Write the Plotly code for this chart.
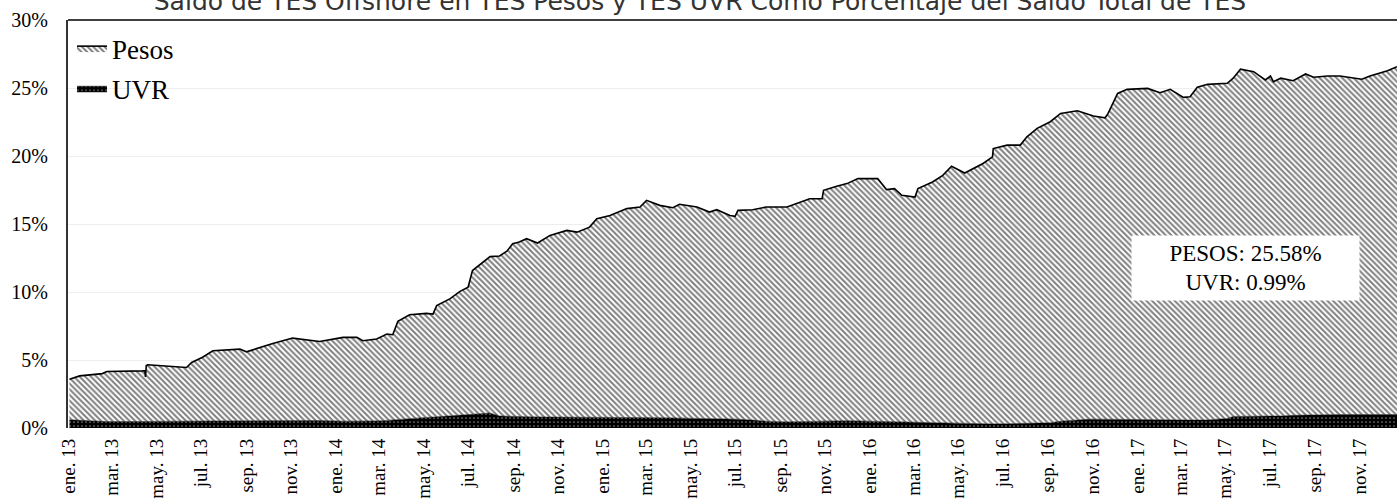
import plotly.graph_objects as go

# Fechas de lectura de la serie
fechas = [
    "2013-01-02", "2013-01-16", "2013-02-16", "2013-02-22", "2013-04-12", "2013-04-15",
    "2013-04-16", "2013-04-17", "2013-04-19", "2013-06-11", "2013-06-18", "2013-07-03",
    "2013-07-17", "2013-08-23", "2013-09-01", "2013-09-19", "2013-10-07", "2013-11-03",
    "2013-12-10", "2014-01-11", "2014-01-30", "2014-02-07", "2014-02-26", "2014-03-12",
    "2014-03-20", "2014-03-27", "2014-04-12", "2014-05-05", "2014-05-14", "2014-05-19",
    "2014-06-06", "2014-06-20", "2014-07-01", "2014-07-07", "2014-07-31", "2014-08-13",
    "2014-08-23", "2014-08-31", "2014-09-09", "2014-09-19", "2014-10-04", "2014-10-21",
    "2014-11-13", "2014-11-27", "2014-12-14", "2014-12-24", "2015-01-11", "2015-02-03",
    "2015-02-21", "2015-03-02", "2015-03-20", "2015-04-07", "2015-04-16", "2015-05-10",
    "2015-05-27", "2015-06-06", "2015-06-24", "2015-07-01", "2015-07-05", "2015-07-25",
    "2015-08-13", "2015-09-10", "2015-09-28", "2015-10-11", "2015-10-28", "2015-10-30",
    "2015-11-17", "2015-12-01", "2015-12-16", "2016-01-12", "2016-01-24", "2016-02-04",
    "2016-02-14", "2016-03-03", "2016-03-07", "2016-03-27", "2016-04-10", "2016-04-22",
    "2016-05-10", "2016-06-04", "2016-06-17", "2016-06-18", "2016-07-07", "2016-07-25",
    "2016-08-03", "2016-08-17", "2016-09-04", "2016-09-18", "2016-10-11", "2016-10-25",
    "2016-11-02", "2016-11-18", "2016-11-22", "2016-12-05", "2016-12-18", "2017-01-15",
    "2017-02-01", "2017-02-15", "2017-03-05", "2017-03-14", "2017-03-24", "2017-04-07",
    "2017-05-04", "2017-05-12", "2017-05-22", "2017-06-09", "2017-06-25", "2017-07-02",
    "2017-07-06", "2017-07-16", "2017-08-02", "2017-08-19", "2017-08-30", "2017-09-18",
    "2017-10-05", "2017-11-04", "2017-11-15", "2017-12-09", "2017-12-22",
]

# TES UVR en poder de offshore (% del saldo total)
uvr = [
    0.60, 0.55, 0.48, 0.47, 0.48, 0.48, 0.48, 0.48, 0.48, 0.50, 0.50, 0.50,
    0.51, 0.52, 0.53, 0.54, 0.55, 0.57, 0.55, 0.50, 0.50, 0.50, 0.52, 0.56,
    0.60, 0.64, 0.72, 0.78, 0.80, 0.82, 0.88, 0.95, 1.00, 1.05, 1.10, 0.88,
    0.86, 0.85, 0.84, 0.83, 0.81, 0.80, 0.80, 0.80, 0.80, 0.80, 0.80, 0.80,
    0.79, 0.78, 0.76, 0.74, 0.73, 0.72, 0.71, 0.70, 0.67, 0.66, 0.65, 0.58,
    0.50, 0.45, 0.48, 0.50, 0.53, 0.53, 0.55, 0.54, 0.52, 0.50, 0.49, 0.46,
    0.45, 0.42, 0.42, 0.39, 0.37, 0.36, 0.35, 0.31, 0.30, 0.30, 0.31, 0.33,
    0.34, 0.36, 0.38, 0.50, 0.62, 0.64, 0.65, 0.64, 0.64, 0.62, 0.60, 0.58,
    0.56, 0.55, 0.56, 0.57, 0.58, 0.59, 0.70, 0.85, 0.85, 0.85, 0.85, 0.86,
    0.86, 0.88, 0.93, 0.96, 0.97, 0.98, 0.99, 0.99, 0.99, 0.99, 0.99,
]

# TES Pesos en poder de offshore (% del saldo total)
pesos = [
    2.99, 3.28, 3.52, 3.68, 3.72, 3.74, 3.27, 4.12, 4.17, 3.95, 4.32, 4.70,
    5.17, 5.28, 5.07, 5.38, 5.67, 6.04, 5.81, 6.16, 6.16, 5.92, 6.02, 6.35,
    6.26, 7.20, 7.61, 7.65, 7.58, 8.18, 8.61, 9.10, 9.35, 10.53, 11.50, 11.77,
    12.14, 12.70, 12.83, 13.09, 12.79, 13.36, 13.73, 13.60, 13.97, 14.59, 14.83, 15.33,
    15.46, 15.96, 15.61, 15.46, 15.72, 15.53, 15.17, 15.35, 14.96, 14.90, 15.35, 15.47,
    15.75, 15.80, 16.14, 16.36, 16.33, 16.95, 17.22, 17.43, 17.82, 17.84, 17.04, 17.14,
    16.66, 16.56, 17.18, 17.70, 18.21, 18.89, 18.40, 19.14, 19.64, 20.25, 20.49, 20.47,
    21.07, 21.67, 22.14, 22.63, 22.71, 22.44, 22.29, 22.17, 22.49, 23.98, 24.30, 24.39,
    24.09, 24.35, 23.75, 23.79, 24.47, 24.68, 24.65, 24.87, 25.53, 25.35, 24.74, 25.02,
    24.60, 24.84, 24.61, 25.07, 24.82, 24.90, 24.89, 24.65, 24.89, 25.28, 25.58,
]

# Marcas del eje de fechas (cada dos meses)
tick_fechas = [
    "2013-01-01", "2013-03-01", "2013-05-01", "2013-07-01", "2013-09-01", "2013-11-01",
    "2014-01-01", "2014-03-01", "2014-05-01", "2014-07-01", "2014-09-01", "2014-11-01",
    "2015-01-01", "2015-03-01", "2015-05-01", "2015-07-01", "2015-09-01", "2015-11-01",
    "2016-01-01", "2016-03-01", "2016-05-01", "2016-07-01", "2016-09-01", "2016-11-01",
    "2017-01-01", "2017-03-01", "2017-05-01", "2017-07-01", "2017-09-01", "2017-11-01",
]
tick_textos = [
    "ene. 13", "mar. 13", "may. 13", "jul. 13", "sep. 13", "nov. 13",
    "ene. 14", "mar. 14", "may. 14", "jul. 14", "sep. 14", "nov. 14",
    "ene. 15", "mar. 15", "may. 15", "jul. 15", "sep. 15", "nov. 15",
    "ene. 16", "mar. 16", "may. 16", "jul. 16", "sep. 16", "nov. 16",
    "ene. 17", "mar. 17", "may. 17", "jul. 17", "sep. 17", "nov. 17",
]

# Eje vertical en porcentaje
y_ticks = [0, 5, 10, 15, 20, 25, 30]
y_textos = ["0%", "5%", "10%", "15%", "20%", "25%", "30%"]

titulo = "Saldo de TES Offshore en TES Pesos y TES UVR Como Porcentaje del Saldo Total de TES"
serif = "Liberation Serif, Times New Roman, serif"

fig = go.Figure()

fig.add_trace(go.Scatter(
    x=fechas, y=uvr, name="UVR", stackgroup="uno", mode="lines",
    legendgroup="uvr", legendrank=2,
    line=dict(color="black", width=0.5),
    fillcolor="black",
    fillpattern=dict(shape=".", bgcolor="black", fgcolor="white", size=4, solidity=0.15),
))

fig.add_trace(go.Scatter(
    x=fechas, y=pesos, name="Pesos", stackgroup="uno", mode="lines",
    legendgroup="pesos", legendrank=1,
    line=dict(color="black", width=1.6),
    fillcolor="white",
    fillpattern=dict(shape="\\", bgcolor="white", fgcolor="black", size=4, solidity=0.5),
))

fig.add_annotation(
    xref="paper", yref="paper", x=0.886, y=0.392,
    xanchor="center", yanchor="middle",
    text=f"PESOS: {pesos[-1]:.2f}%<br>UVR: {uvr[-1]:.2f}%",
    showarrow=False, align="center",
    font=dict(family=serif, size=23, color="black"),
    bgcolor="white", width=225, height=62,
)

fig.add_shape(type="line", xref="paper", yref="paper", x0=0, x1=1, y0=1, y1=1,
              line=dict(color="black", width=1.5))

fig.update_layout(
    width=1397, height=499,
    margin=dict(l=68, r=0, t=20, b=71, autoexpand=False),
    paper_bgcolor="white", plot_bgcolor="white",
    title=dict(text=titulo, x=700 / 1397, xanchor="center", xref="container",
               y=1 - 10 / 499, yref="container", yanchor="bottom",
               font=dict(family="DejaVu Sans", size=25, color="#333")),
    showlegend=True,
    legend=dict(x=0.003, y=0.99, xanchor="left", yanchor="top",
                traceorder="grouped", tracegroupgap=2,
                bgcolor="rgba(255,255,255,0)", itemwidth=30,
                font=dict(family=serif, size=27, color="black")),
    xaxis=dict(
        type="date", range=["2012-12-31", "2017-12-22"],
        tickvals=tick_fechas, ticktext=tick_textos, tickangle=-90,
        tickfont=dict(family=serif, size=19, color="black"),
        showgrid=False, showline=False, zeroline=False, ticks="",
        ticklabelstandoff=6, automargin=False,
    ),
    yaxis=dict(
        range=[0, 30], tickvals=y_ticks, ticktext=y_textos,
        tickfont=dict(family=serif, size=20, color="black"),
        showgrid=True, gridcolor="#eeeeee", gridwidth=1,
        showline=True, linecolor="#333333", linewidth=2,
        zeroline=False, ticks="", ticklabelstandoff=14, automargin=False,
    ),
)

fig.write_html("out.html")
